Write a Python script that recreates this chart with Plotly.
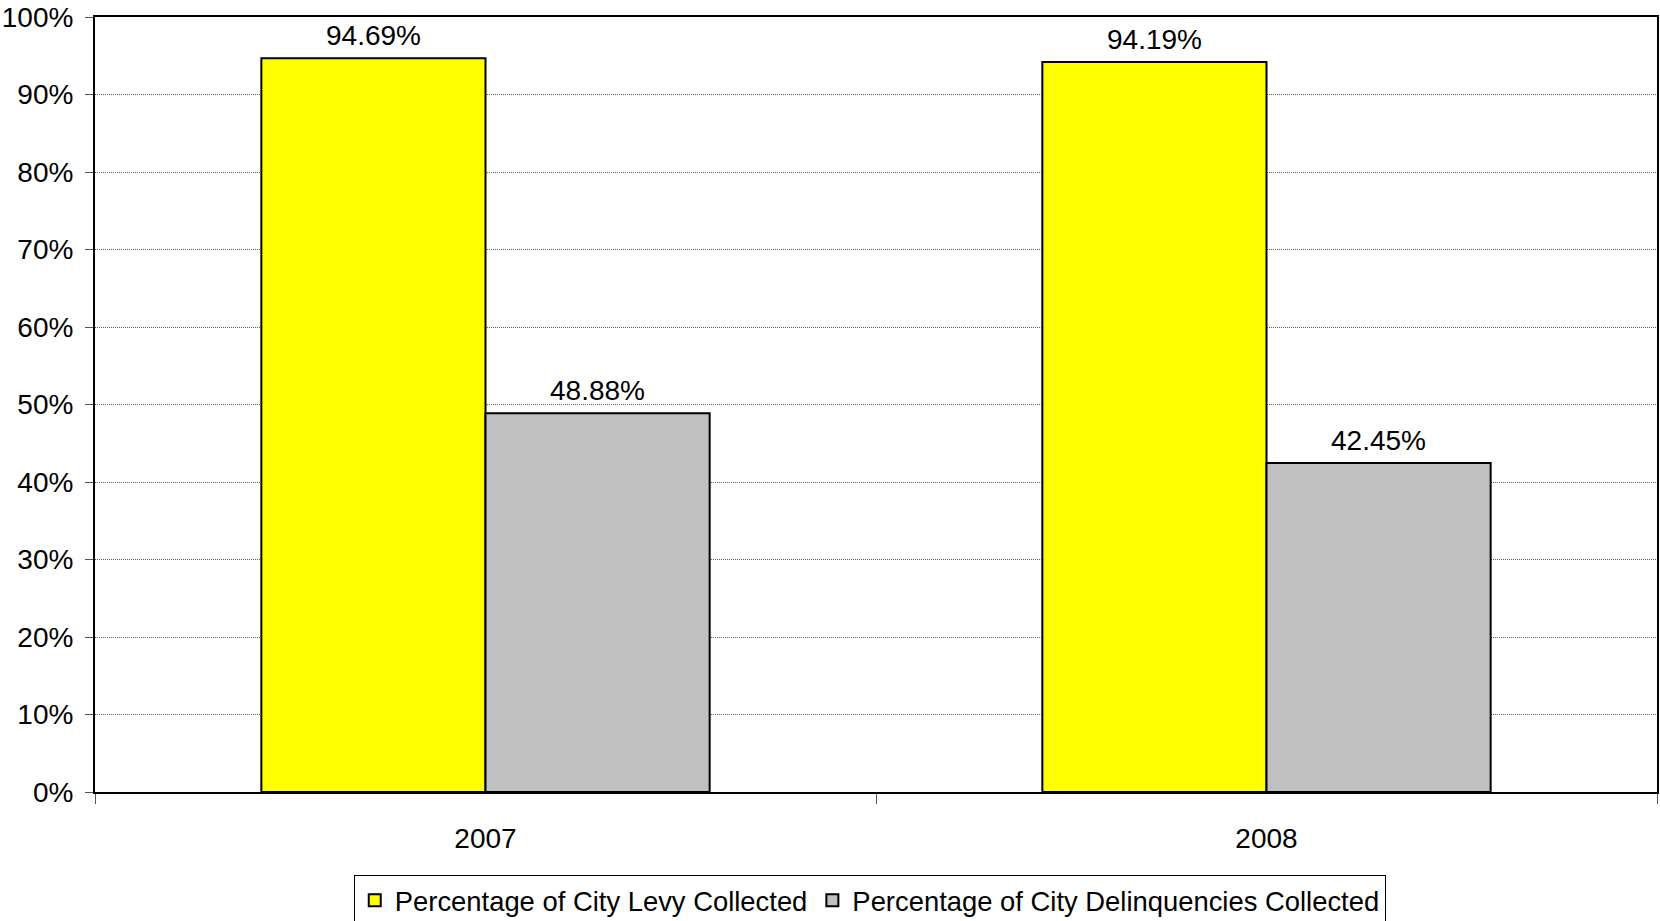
import plotly.graph_objects as go

years = ["2007", "2008"]
levy = [0.9469, 0.9419]
delinq = [0.4888, 0.4245]
series_names = ["Percentage of City Levy Collected", "Percentage of City Delinquencies Collected"]
y_ticks = [i / 10 for i in range(11)]

FONT = "Arial, Liberation Sans, sans-serif"
FS = 28

fig = go.Figure()
fig.add_trace(go.Bar(
    x=years, y=levy, name=series_names[0],
    marker=dict(color="#FFFF00", line=dict(color="black", width=2)),
))
fig.add_trace(go.Bar(
    x=years, y=delinq, name=series_names[1],
    marker=dict(color="#C0C0C0", line=dict(color="black", width=2)),
))

# value labels above each bar (category index positions on the category axis)
for vals, shift in ((levy, -112), (delinq, 112)):
    for i, v in enumerate(vals):
        fig.add_annotation(
            x=i, y=v, xref="x", yref="y", text=f"{v:.2%}",
            showarrow=False, xshift=shift, yshift=5, yanchor="bottom",
            font=dict(size=FS, family=FONT, color="black"),
        )

fig.update_layout(
    width=1660, height=921,
    margin=dict(l=95, r=3, t=17, b=129, autoexpand=False),
    paper_bgcolor="white", plot_bgcolor="white",
    font=dict(family=FONT, size=FS, color="black"),
    barmode="group", bargap=0.426, bargroupgap=0,
    showlegend=True,
    legend=dict(
        orientation="h", x=0.496, xanchor="center", y=-0.107, yanchor="top",
        bordercolor="black", borderwidth=1, bgcolor="white",
        font=dict(size=27.4, family=FONT, color="black"),
        itemwidth=30, tracegroupgap=0,
    ),
)
fig.update_xaxes(
    type="category", categoryorder="array", categoryarray=years,
    range=[-0.5, len(years) - 0.5], autorange=False,
    tickson="boundaries", ticks="outside", ticklen=10,
    tickcolor="#555", tickwidth=1, tickangle=0,
    showline=True, linecolor="black", linewidth=2, mirror=True,
    showgrid=False, ticklabelstandoff=20,
    tickfont=dict(size=FS),
)
fig.update_yaxes(
    range=[0, 1], tickvals=y_ticks, tickformat=".0%",
    ticks="outside", ticklen=8, tickcolor="#555", tickwidth=1,
    showline=True, linecolor="black", linewidth=2, mirror=True,
    showgrid=True, gridcolor="#606060", gridwidth=1, griddash="1px,1px",
    zeroline=False, ticklabelstandoff=6,
    tickfont=dict(size=FS),
)

fig.write_html("out.html")
